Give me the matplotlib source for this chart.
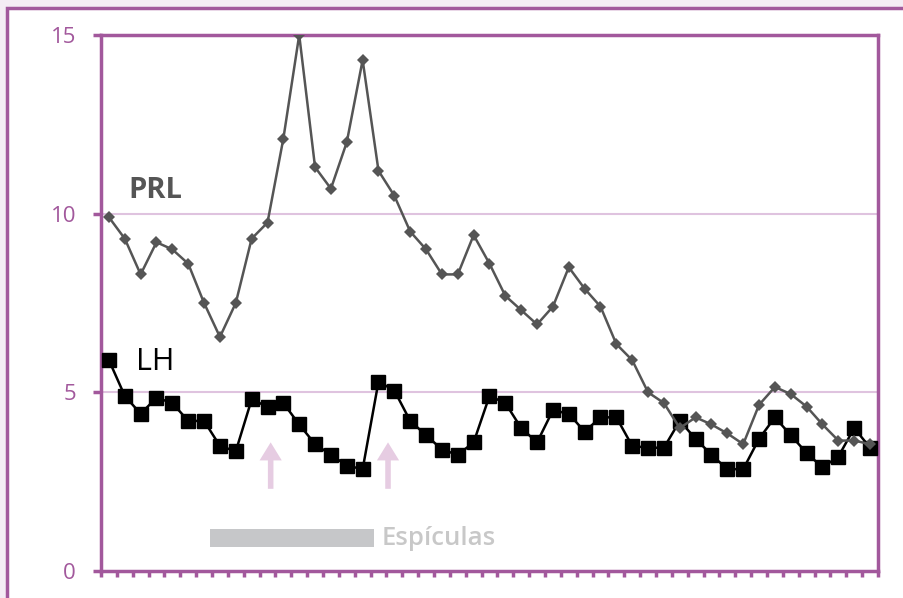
import numpy as np
import matplotlib.pyplot as plt
from matplotlib.patches import Rectangle

# valores (49 muestras)
prl = [9.9, 9.3, 8.3, 9.2, 9.0, 8.6, 7.5, 6.55, 7.5, 9.3,
       9.75, 12.1, 15.0, 11.3, 10.7, 12.0, 14.3, 11.2, 10.5, 9.5,
       9.0, 8.3, 8.3, 9.4, 8.6, 7.7, 7.3, 6.9, 7.4, 8.5,
       7.9, 7.4, 6.35, 5.9, 5.0, 4.7, 4.0, 4.3, 4.1, 3.85,
       3.55, 4.65, 5.15, 4.95, 4.6, 4.1, 3.65, 3.65, 3.55]
lh = [5.9, 4.9, 4.4, 4.85, 4.7, 4.2, 4.2, 3.5, 3.35, 4.8,
      4.6, 4.7, 4.1, 3.55, 3.25, 2.95, 2.85, 5.3, 5.05, 4.2,
      3.8, 3.4, 3.25, 3.6, 4.9, 4.7, 4.0, 3.6, 4.5, 4.4,
      3.9, 4.3, 4.3, 3.5, 3.45, 3.45, 4.2, 3.7, 3.25, 2.85,
      2.85, 3.7, 4.3, 3.8, 3.3, 2.9, 3.2, 4.0, 3.45]
y_ticks = [0, 5, 10, 15]
arrow_pos = [10.2, 17.6]
spike_span = (6.4, 16.7)

purple = '#a2589c'
grid_col = '#dfc3df'
x = np.arange(len(prl))

plt.rcParams['font.family'] = ['Open Sans', 'DejaVu Sans']
fig = plt.figure(figsize=(9.04, 5.98), dpi=100)
fig.patch.set_facecolor('#f4ecf4')
fig.patches.append(Rectangle((7 / 904, -0.1), 1.1, 1.1 - 8 / 598,
                             transform=fig.transFigure, facecolor='white',
                             edgecolor=purple, linewidth=2.5, zorder=-10))

ax = fig.add_axes([101 / 904, 1 - 571 / 598, 777 / 904, 536 / 598])
ax.set_facecolor('white')

for v in [5, 10]:
    ax.axhline(v, color=grid_col, linewidth=1.5, zorder=1)

ax.plot(x, lh, color='black', linewidth=1.8, marker='s', markersize=10.5, zorder=3)
ax.plot(x, prl, color='#555555', linewidth=1.8, marker='D', markersize=6.5,
        markeredgewidth=0, zorder=4)

# flechas de espículas
for a in arrow_pos:
    ax.annotate('', xy=(a, 3.6), xytext=(a, 2.3),
                arrowprops=dict(facecolor='#e6cce2', edgecolor='none',
                                width=4, headwidth=16, headlength=13))

ax.add_patch(Rectangle((spike_span[0], 0.67), spike_span[1] - spike_span[0], 0.5,
                       facecolor='#c6c7c9', edgecolor='none', zorder=2))
ax.text(spike_span[1] + 0.5, 0.92, 'Espículas', color='#c8c8c8', fontsize=18.5,
        fontweight='semibold', va='center', ha='left')

ax.text(1.2, 10.65, 'PRL', color='#555555', fontsize=21, fontweight='bold', va='center')
ax.text(1.7, 5.85, 'LH', color='black', fontsize=22, fontweight='medium', va='center')

ax.set_xlim(-0.5, len(prl) - 0.5)
ax.set_ylim(0, 15)
ax.set_yticks(y_ticks)
ax.set_xticks([])
ax.set_xticks(np.arange(-0.5, len(prl), 1), minor=True)
ax.tick_params(axis='y', colors=purple, labelcolor=purple, length=6, width=2.5,
               pad=12, labelsize=16)
for lbl in ax.get_yticklabels():
    lbl.set_fontweight('medium')
ax.tick_params(axis='x', which='minor', colors=purple, length=4, width=2.5, direction='out')
for s in ax.spines.values():
    s.set_color(purple)
    s.set_linewidth(2.5)

fig.savefig('out.png', dpi=100, facecolor=fig.get_facecolor())
